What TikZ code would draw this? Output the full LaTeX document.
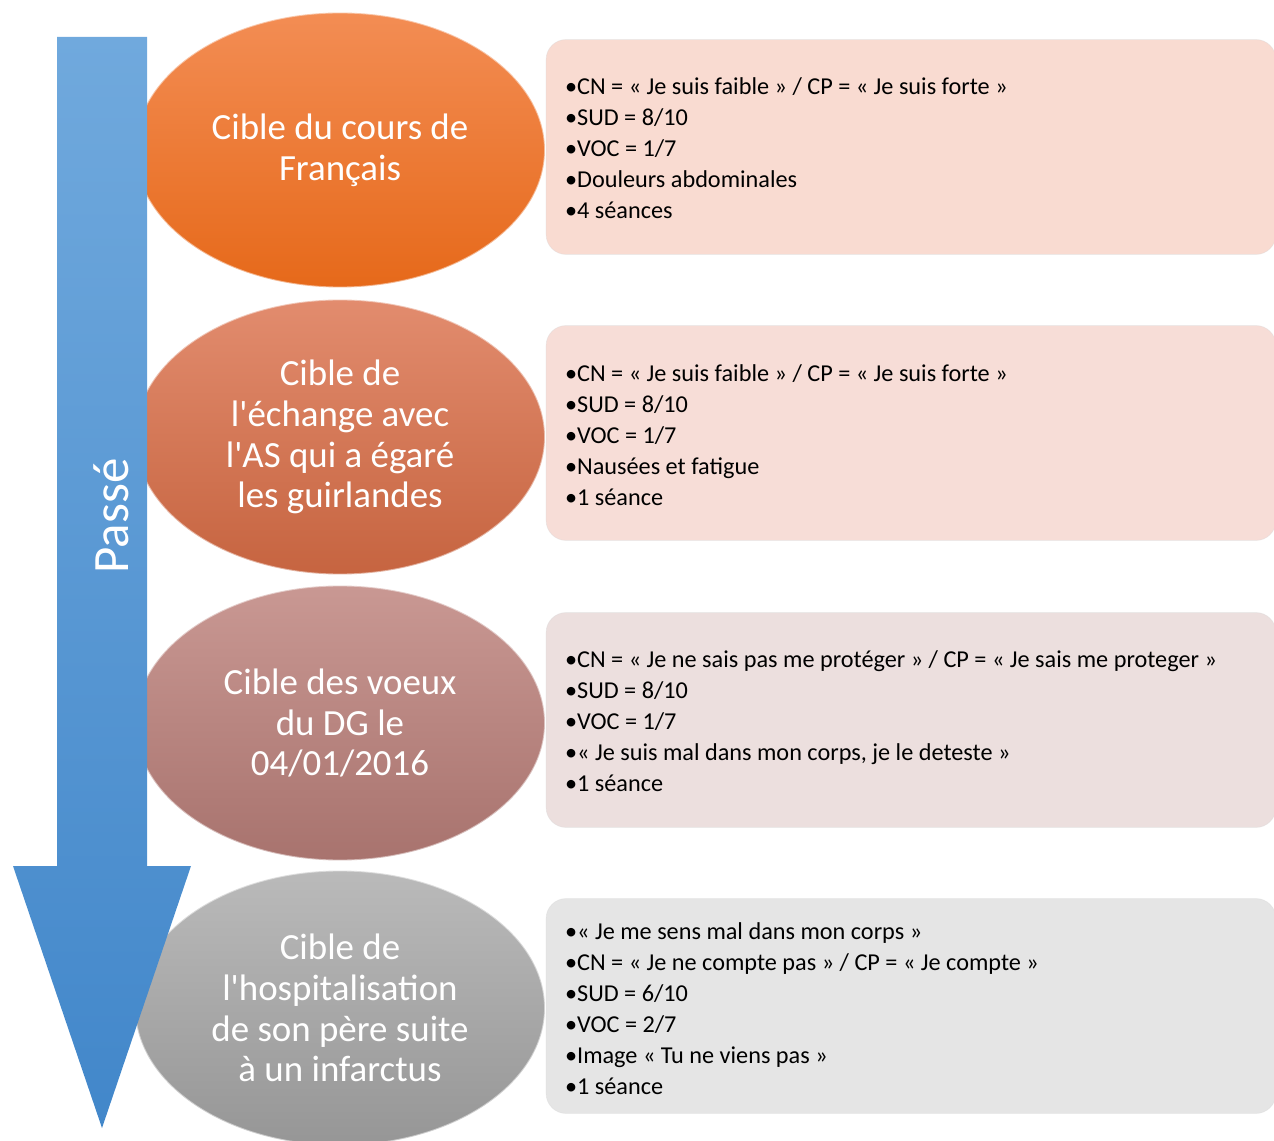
\documentclass[tikz,border=0pt]{standalone}
\usepackage{fontspec}
\setmainfont{Carlito}
\newfontfamily\corps{Carlito}
\usetikzlibrary{shapes.geometric}
\definecolor{arrowT}{RGB}{112,169,221}
\definecolor{arrowB}{RGB}{66,135,202}
\definecolor{orangeT}{RGB}{243,141,84}
\definecolor{orangeB}{RGB}{230,105,26}
\definecolor{terreT}{RGB}{226,140,110}
\definecolor{terreB}{RGB}{198,100,64}
\definecolor{roseT}{RGB}{201,152,147}
\definecolor{roseB}{RGB}{168,115,110}
\definecolor{grisT}{RGB}{186,186,186}
\definecolor{grisB}{RGB}{150,150,150}
\definecolor{infoA}{RGB}{249,219,209}
\definecolor{infoB}{RGB}{247,221,215}
\definecolor{infoC}{RGB}{236,223,222}
\definecolor{infoD}{RGB}{229,229,229}
\tikzset{
  cible/.style={ellipse, minimum width=8.2cm, minimum height=5.5cm, inner sep=0pt,
    align=center, text=white, draw=white, draw opacity=0.5, line width=1pt,
    font=\corps\fontsize{21}{23.2}\selectfont},
  cadre/.style={rounded corners=0.4cm, minimum width=14.6cm, minimum height=4.3cm,
    draw=white!85!black, draw opacity=0.4},
  detail/.style={anchor=west, align=left, inner sep=0pt,
    font=\fontsize{13.8}{17.6}\selectfont}
}

\begin{document}
\begin{tikzpicture}[x=0.02cm,y=-0.02cm]
    \useasboundingbox (0,0) rectangle (1274,1141);
    % boxes on the right
    \foreach \n/\y/\col in {1/147/infoA,2/433/infoB,3/720/infoC,4/1006/infoD}
      \node[cadre, fill=\col] (info\n) at (911,\y) {};
    % texts of the boxes
    \node[detail] (detail1) at ([xshift=0.38cm,yshift=-0.03cm]info1.west)
      {•CN = « Je suis faible » / CP = « Je suis forte »\\•SUD = 8/10\\•VOC = 1/7\\
       •Douleurs abdominales\\•4 séances};
    \node[detail] (detail2) at ([xshift=0.38cm,yshift=-0.05cm]info2.west)
      {•CN = « Je suis faible » / CP = « Je suis forte »\\•SUD = 8/10\\•VOC = 1/7\\
       •Nausées et fatigue\\•1 séance};
    \node[detail] (detail3) at ([xshift=0.38cm,yshift=-0.03cm]info3.west)
      {•CN = « Je ne sais pas me protéger » / CP = « Je sais me proteger »\\•SUD = 8/10\\
       •VOC = 1/7\\•« Je suis mal dans mon corps, je le deteste »\\•1 séance};
    \node[detail] (detail4) at ([xshift=0.38cm,yshift=-0.05cm]info4.west)
      {•« Je me sens mal dans mon corps »\\•CN = « Je ne compte pas » / CP = « Je compte »\\
       •SUD = 6/10\\•VOC = 2/7\\•Image « Tu ne viens pas »\\•1 séance};
    % loop over the targets
    \foreach \n/\y/\col/\txt in {1/150/orange/{Cible du cours de\\Français},
        2/437/terre/{Cible de\\l'échange avec\\l'AS qui a égaré\\les guirlandes},
        3/723/rose/{Cible des voeux\\du DG le\\04/01/2016},
        4/1008/gris/{Cible de\\l'hospitalisation\\de son père suite\\à un infarctus}}
      \node[cible, top color=\col T, bottom color=\col B] (cible\n) at (340,\y) {\txt};
    % time arrow
    \shade[top color=arrowT, bottom color=arrowB]
      (57,37) -- (147,37) -- (147,866) -- (191,866) -- (102,1128)
      -- (13,866) -- (57,866) -- cycle;
    \node[rotate=90, text=white, font=\fontsize{29}{35}\selectfont] (passe) at (111,516) {Passé};
\end{tikzpicture}
\end{document}
